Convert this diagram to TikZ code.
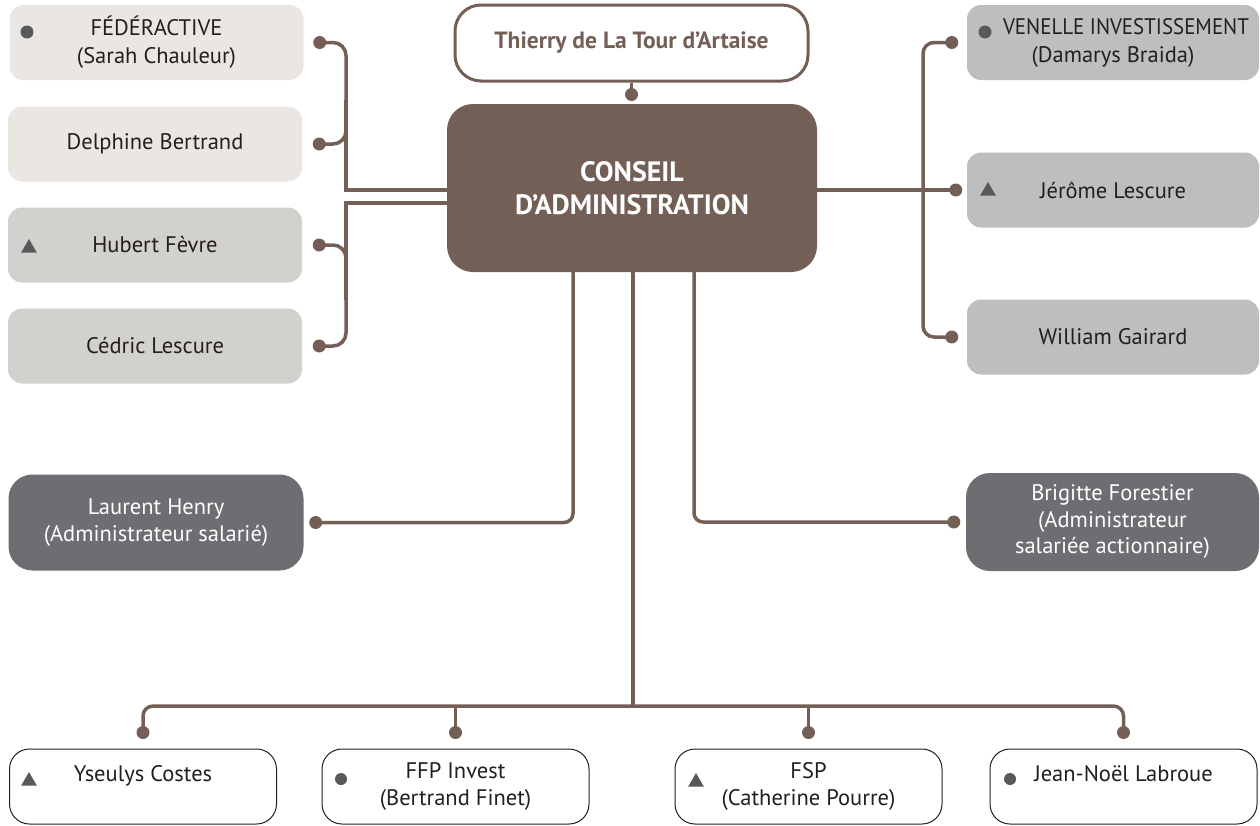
\documentclass[tikz,border=0pt]{standalone}
\usepackage{fontspec}
\setmainfont{PT Sans}
\usepackage{tikz}
\usetikzlibrary{shapes.geometric}

\definecolor{linkbrown}{HTML}{735F56}
\definecolor{paleA}{HTML}{EAE7E2}
\definecolor{paleB}{HTML}{D3D1CD}
\definecolor{greyR}{HTML}{BDBEC0}
\definecolor{darkbox}{HTML}{6D6E71}
\definecolor{markgrey}{HTML}{58595B}
\definecolor{textdark}{HTML}{231F20}

\begin{document}
\begin{tikzpicture}[x=1pt,y=-1pt,
  link/.style={draw=linkbrown,line width=3.5pt},
  side box/.style={rounded corners=14pt,minimum width=294pt,minimum height=75pt,inner sep=0pt,align=center,text=textdark,font=\fontsize{22.5}{28}\selectfont},
  staff box/.style={rounded corners=24pt,fill=darkbox,minimum width=295pt,minimum height=96pt,inner sep=0pt,align=center,text=white,font=\fontsize{22.5}{26.5}\selectfont},
  share box/.style={draw=textdark,line width=1pt,rounded corners=20pt,fill=white,minimum width=267pt,minimum height=75pt,inner sep=0pt,align=center,text=textdark,font=\fontsize{22.5}{27}\selectfont},
  head box/.style={draw=linkbrown,line width=3pt,rounded corners=26pt,fill=white,minimum width=353pt,minimum height=76pt,inner sep=0pt,text=linkbrown,font=\fontsize{23.5}{28}\selectfont\bfseries},
  board box/.style={rounded corners=26pt,fill=linkbrown,minimum width=370pt,minimum height=168pt,inner sep=0pt,align=center,text=white,font=\fontsize{28}{33}\selectfont\bfseries},
  dot mark/.style={circle,fill=markgrey,minimum size=13pt,inner sep=0pt},
  tri mark/.style={regular polygon,regular polygon sides=3,fill=markgrey,minimum size=18pt,inner sep=0pt}]

  \useasboundingbox (0,0) rectangle (1260,825);

  % left column
  \node[side box,fill=paleA] (fed) at (156.5,42.5) {FÉDÉRACTIVE\\(Sarah Chauleur)};
  \node[side box,fill=paleA] (delph) at (155,144) {Delphine Bertrand};
  \node[side box,fill=paleB] (hub) at (155,245) {Hubert Fèvre};
  \node[side box,fill=paleB] (ced) at (155,346) {Cédric Lescure};

  % centre
  \node[head box] (thierry) at (631.5,43) {Thierry de La Tour d’Artaise};
  \node[board box] (conseil) at (632,188) {CONSEIL\\D’ADMINISTRATION};

  % right column
  \node[side box,fill=greyR,minimum width=292pt] (ven) at (1113,42.5) {\hspace*{26pt}\scalebox{0.93}[1]{VENELLE INVESTISSEMENT}\\(Damarys Braida)};
  \node[side box,fill=greyR,minimum width=292pt] (jer) at (1113,190) {Jérôme Lescure};
  \node[side box,fill=greyR,minimum width=292pt] (wil) at (1113,337) {William Gairard};

  % staff seats
  \node[staff box] (lau) at (156,522.5) {Laurent Henry\\(Administrateur salarié)};
  \node[staff box,minimum width=293pt,minimum height=98pt] (bri) at (1112.5,522) {Brigitte Forestier\\(Administrateur\\salariée actionnaire)};

  % bottom row
  \node[share box] (yse) at (143,786.5) {Yseulys Costes\\\phantom{X}};
  \node[share box] (ffp) at (455.5,786.5) {FFP Invest\\(Bertrand Finet)};
  \node[share box] (fsp) at (808.5,786.5) {FSP\\(Catherine Pourre)};
  \node[share box] (jean) at (1123.5,786.5) {Jean-Noël Labroue\\\phantom{X}};

  % markers
  \node[dot mark] (fed-m) at (27,32) {};
  \node[tri mark] (hub-m) at (29,248) {};
  \node[dot mark] (ven-m) at (985,32) {};
  \node[tri mark] (jer-m) at (988,191) {};
  \node[tri mark] (yse-m) at (29,781) {};
  \node[dot mark,minimum size=12pt] (ffp-m) at (341,779) {};
  \node[tri mark] (fsp-m) at (696,782) {};
  \node[dot mark,minimum size=12pt] (jean-m) at (1010,779) {};

  % connector ends
  \coordinate (fed-d) at ([xshift=16pt]fed.east);
  \coordinate (delph-d) at ([xshift=17pt]delph.east);
  \coordinate (hub-d) at ([xshift=17pt]hub.east);
  \coordinate (ced-d) at ([xshift=17pt]ced.east);
  \coordinate (thi-d) at ([yshift=-12pt]thierry.south);
  \coordinate (ven-d) at ([xshift=-15pt]ven.west);
  \coordinate (jer-d) at ([xshift=-11pt]jer.west);
  \coordinate (wil-d) at ([xshift=-15pt]wil.west);
  \coordinate (lau-d) at ([xshift=12pt]lau.east);
  \coordinate (bri-d) at ([xshift=-12pt]bri.west);
  \coordinate (yse-d) at ([yshift=16pt]yse.north);
  \coordinate (ffp-d) at ([yshift=16pt]ffp.north);
  \coordinate (fsp-d) at ([yshift=16pt]fsp.north);
  \coordinate (jean-d) at ([yshift=16pt]jean.north);
  \coordinate (bus) at (633,706);

  \draw[link] (thierry.south) -- (thi-d);

  \draw[link,rounded corners=13pt] (fed-d) -| (346,100) |- (delph-d);
  \draw[link] (346,100) |- ([yshift=-2pt]conseil.west);
  \draw[link,rounded corners=13pt] (hub-d) -| (346,300) |- (ced-d);
  \draw[link] (346,300) |- ([yshift=-15pt]conseil.west);

  \draw[link,rounded corners=11pt] (ven-d) -| (923,200) |- (wil-d);
  \draw[link] (conseil.east |- jer-d) -- (jer-d);

  \draw[link,rounded corners=9pt] ([xshift=-59pt]conseil.south) |- (lau-d);
  \draw[link,rounded corners=9pt] ([xshift=62pt]conseil.south) |- (bri-d);

  \draw[link] (conseil.south -| bus) -- (bus);
  \draw[link,rounded corners=10pt] (yse-d) |- (bus) -| (jean-d);
  \draw[link] (ffp-d) -- (ffp-d |- bus);
  \draw[link] (fsp-d) -- (fsp-d |- bus);

  \foreach \d in {fed-d,delph-d,hub-d,ced-d,thi-d,ven-d,jer-d,wil-d,lau-d,bri-d,yse-d,ffp-d,fsp-d,jean-d}
    \fill[linkbrown] (\d) circle (6.5pt);

\end{tikzpicture}
\end{document}
